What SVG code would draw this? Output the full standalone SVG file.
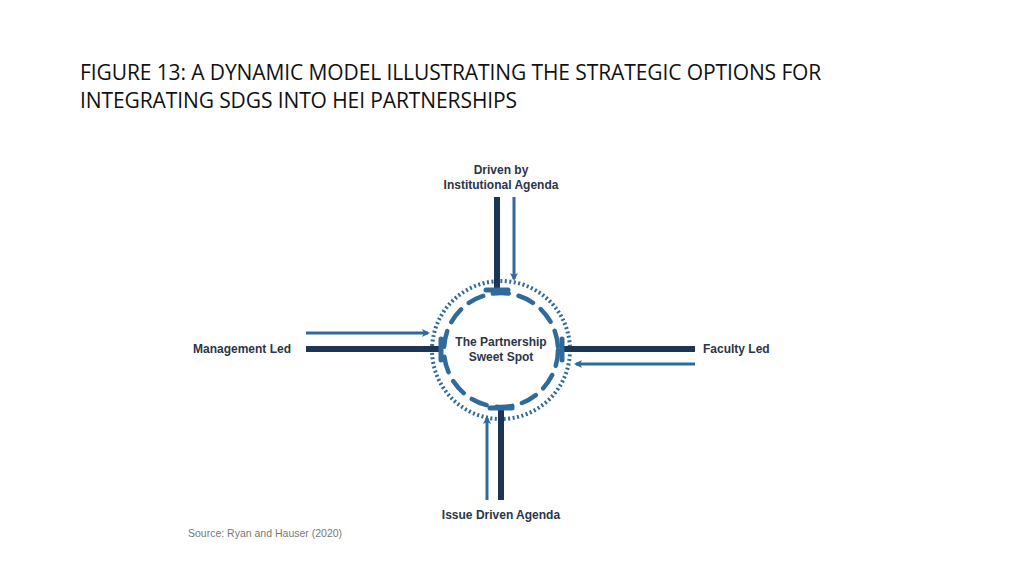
<svg xmlns="http://www.w3.org/2000/svg" width="1024" height="576" viewBox="0 0 1024 576">
<style>
.t{font-family:"Liberation Sans",Arial,sans-serif;font-weight:bold;fill:#2b3548;font-size:12px}
.h{font-family:"Open Sans","Liberation Sans",sans-serif;font-size:21px;fill:#111;letter-spacing:-0.1px}
.thick{stroke:#1c3557;stroke-width:6;fill:none}
.cap{stroke:#2f6a9b;stroke-width:5;fill:none;stroke-linecap:round}
.thin{stroke:#2f6a9b;stroke-width:3;fill:none}
</style>
<defs><marker id="a" markerWidth="8" markerHeight="8" refX="6" refY="4" orient="auto" markerUnits="userSpaceOnUse" viewBox="0 0 8 8"><path d="M0,0 L8,4 L0,8 L2,4Z" fill="#2f6a9b"/></marker></defs>
<rect width="1024" height="576" fill="#fff"/>
<text class="h" x="80" y="80">FIGURE 13: A DYNAMIC MODEL ILLUSTRATING THE STRATEGIC OPTIONS FOR</text>
<text class="h" x="80" y="108">INTEGRATING SDGS INTO HEI PARTNERSHIPS</text>
<g id="center">
<circle cx="501" cy="350" r="69" fill="none" stroke="#2f6a9b" stroke-width="4" stroke-dasharray="2 2.5"/>
<circle cx="501" cy="350" r="57" fill="none" stroke="#2f6a9b" stroke-width="4.5" stroke-dasharray="16 10" stroke-linecap="round"/>
<text class="t" x="501" y="346" text-anchor="middle">The Partnership</text>
<text class="t" x="501" y="361" text-anchor="middle">Sweet Spot</text>
</g>
<g id="connectors">
<path class="thick" d="M497,197 V290"/><path class="cap" d="M486,290 H508"/>
<path class="thin" d="M514,197 V279" marker-end="url(#a)"/>
<path class="thick" d="M306,349 H441"/><path class="cap" d="M441,339 V360"/>
<path class="thin" d="M306,333 H428" marker-end="url(#a)"/>
<path class="thick" d="M695,349 H562"/><path class="cap" d="M562,339 V360"/>
<path class="thin" d="M695,364 H576" marker-end="url(#a)"/>
<path class="thick" d="M501,500 V408"/><path class="cap" d="M490,408 H512"/>
<path class="thin" d="M487,500 V418" marker-end="url(#a)"/>
</g>
<g id="top"><text class="t" x="501" y="174" text-anchor="middle">Driven by</text><text class="t" x="501" y="189" text-anchor="middle">Institutional Agenda</text></g>
<g id="left"><text class="t" x="291" y="353" text-anchor="end">Management Led</text></g>
<g id="right"><text class="t" x="703" y="353">Faculty Led</text></g>
<g id="bottom"><text class="t" x="501" y="519" text-anchor="middle">Issue Driven Agenda</text></g>
<text x="188" y="537" font-family="Liberation Sans,sans-serif" font-size="10.5" fill="#777">Source: Ryan and Hauser (2020)</text>
</svg>
